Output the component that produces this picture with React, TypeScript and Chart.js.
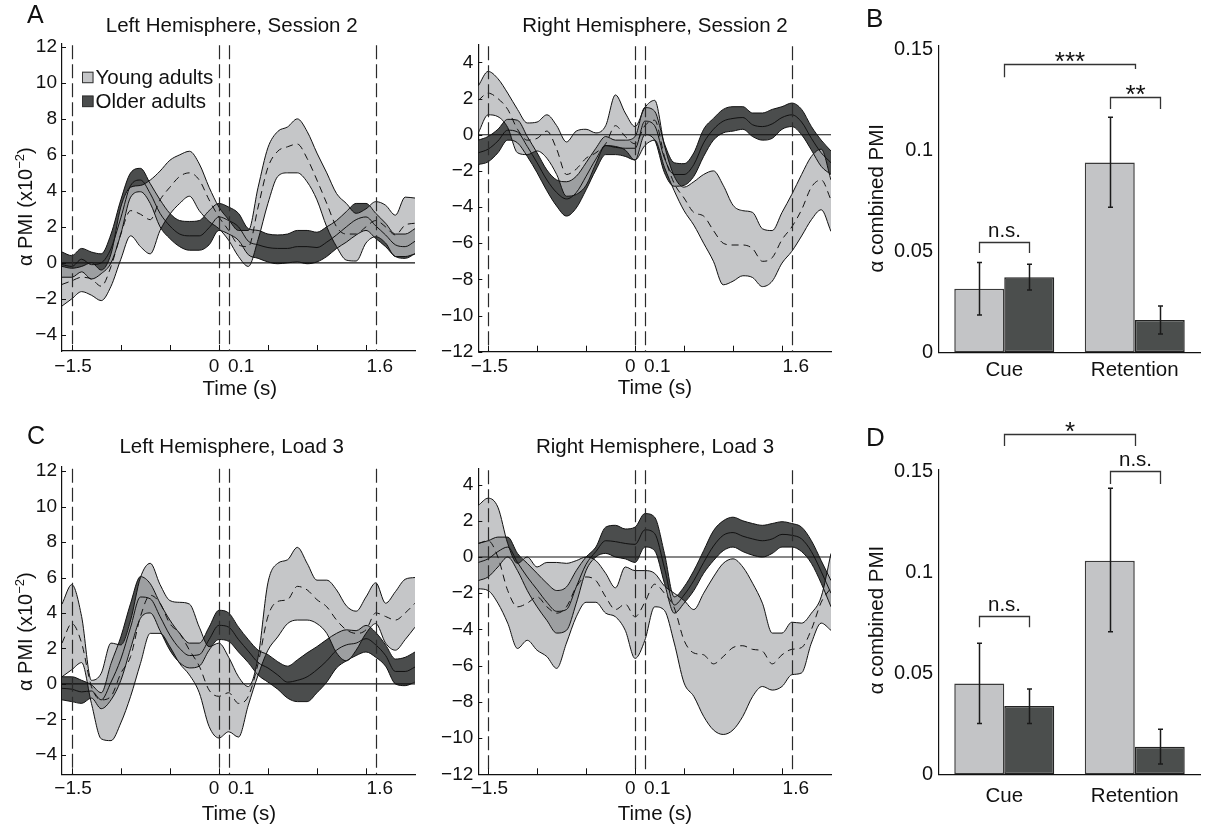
import React, { useEffect, useRef } from "react";
import { Chart, registerables } from "chart.js";

Chart.register(...registerables);

const FONT = '"Liberation Sans", Arial, Helvetica, sans-serif';
const INK = "#111111";
const YOUNG_FILL = "rgba(181,182,184,0.78)";
const OLDER_FILL = "#4b4d4d";
const YOUNG_SOLID = "#c4c5c7";
const YOUNG_BAR = "#c3c4c6";
const OLDER_BAR = "#4b4e4d";

// ---------------- data ----------------
const times = [-1.6, -1.5, -1.4, -1.3, -1.2, -1.1, -1.0, -0.9, -0.8, -0.7, -0.6, -0.5, -0.4, -0.3, -0.2, -0.1, 0, 0.1, 0.2, 0.3, 0.4, 0.5, 0.6, 0.7, 0.8, 0.9, 1.0, 1.1, 1.2, 1.3, 1.4, 1.5, 1.6, 1.7, 1.8, 1.9, 2.0];
const eventTimes = [-1.5, 0, 0.1, 1.6];
const xTickValues = [-1.5, 0, 0.1, 1.6];
const xTickLabels = ["−1.5", "0", "0.1", "1.6"];
const xMinorTicks = [-1.5, -1, -0.5, 0, 0.5, 1, 1.5];
const yTicksLeft = [-4, -2, 0, 2, 4, 6, 8, 10, 12];
const yTicksRight = [-12, -10, -8, -6, -4, -2, 0, 2, 4];

// A: Left hemisphere, session 2
const aLeftYoungUpper = [-0.2, -0.3, -0.2, 0.0, -0.4, 0.5, 3.1, 4.2, 4.3, 4.6, 5.1, 5.7, 6.0, 6.2, 5.5, 4.2, 3.1, 2.4, 1.8, 1.8, 4.2, 6.4, 7.3, 7.55, 8.0, 7.3, 6.1, 5.0, 3.85, 3.3, 2.75, 3.0, 3.4, 3.2, 2.65, 3.65, 3.6];
const aLeftYoungLower = [-2.4, -2.0, -1.6, -1.8, -2.1, -1.3, 0.2, 1.5, 0.9, 0.5, 1.8, 2.7, 3.3, 3.7, 2.9, 2.3, 1.9, 1.25, 0.35, -0.2, 1.3, 3.3, 4.8, 5.0, 5.0, 4.5, 3.5, 2.0, 0.9, 0.15, 0.1, 1.1, 1.45, 1.1, 0.35, 0.35, 0.5];
const aLeftYoungMean = [-1.2, -1.0, -0.8, -0.9, -1.3, -0.2, 1.6, 2.9, 2.7, 2.4, 3.5, 4.2, 4.8, 5.0, 4.6, 3.5, 2.55, 1.8, 1.0, 0.9, 3.1, 5.3, 6.2, 6.45, 6.6, 5.8, 4.6, 3.3, 2.0, 1.6, 1.6, 2.0, 2.35, 2.0, 1.55, 2.1, 2.2];
const aLeftOlderUpper = [0.6, 0.4, 0.8, 0.6, 0.5, 1.6, 3.5, 5.0, 5.25, 4.4, 3.5, 2.75, 2.35, 2.3, 2.35, 2.9, 3.3, 3.1, 2.75, 1.9, 1.8, 1.6, 1.55, 1.6, 1.8, 1.8, 1.7, 2.0, 2.35, 2.85, 3.3, 3.3, 2.75, 2.2, 1.6, 1.6, 1.9];
const aLeftOlderLower = [-0.8, -0.8, -0.5, -0.9, -0.6, 0.0, 1.6, 3.65, 3.95, 3.3, 2.0, 1.35, 0.9, 0.7, 0.7, 1.0, 1.8, 1.6, 1.25, 0.45, 0.25, 0.05, -0.05, 0.0, 0.05, -0.05, 0.05, 0.35, 0.8, 1.15, 1.55, 1.8, 1.35, 0.9, 0.35, 0.25, 0.5];
const aLeftOlderMean = [-0.1, -0.2, 0.2, -0.1, 0.0, 0.8, 2.5, 4.3, 4.6, 3.85, 2.75, 2.05, 1.6, 1.5, 1.5, 1.95, 2.55, 2.35, 2.0, 1.2, 1.0, 0.85, 0.8, 0.8, 0.9, 0.9, 0.85, 1.15, 1.55, 2.0, 2.4, 2.55, 2.05, 1.55, 1.0, 0.9, 1.2];

// A: Right hemisphere, session 2
const aRightYoungUpper = [2.7, 3.5, 3.1, 2.3, 1.4, 0.65, 0.7, 1.1, 0.5, -0.4, 0.2, 0.3, 0.1, 0.5, 2.2, 1.2, 0.45, 1.5, 1.9, -0.6, -2.3, -2.9, -2.6, -2.2, -2.0, -2.8, -3.9, -4.2, -4.3, -5.2, -5.3, -4.3, -3.3, -2.2, -1.2, -0.8, -2.5];
const aRightYoungLower = [0.1, 1.1, 1.0, 0.4, -1.0, -1.1, -0.9, -1.3, -2.2, -3.4, -3.3, -2.8, -1.6, -0.6, -0.65, -0.85, -1.4, -0.6, -0.3, -1.8, -3.1, -4.2, -5.0, -6.0, -7.0, -8.3, -8.1, -7.8, -7.9, -8.4, -8.1, -7.1, -6.45, -5.6, -4.7, -4.15, -5.35];
const aRightYoungMean = [1.9, 2.3, 2.0, 1.4, 0.3, -0.3, -0.2, 0.2, -0.8, -2.2, -1.9, -1.3, -1.0, -0.5, 0.5, -0.1, -0.5, 0.5, 0.8, -1.2, -2.7, -3.5, -4.3, -4.5, -5.3, -6.0, -6.1, -6.1, -6.3, -7.0, -6.8, -5.8, -5.1, -4.15, -2.9, -2.5, -3.6];
const aRightOlderUpper = [-0.3, -0.1, 0.3, 0.85, 0.8, -0.1, -1.0, -1.95, -2.5, -2.6, -2.3, -1.55, -0.75, -0.1, -0.3, -0.3, -0.1, 1.5, 1.3, -0.5, -1.55, -1.6, -1.0, 0.3, 0.9, 1.4, 1.55, 1.55, 1.2, 1.2, 1.4, 1.55, 1.75, 1.4, 0.45, -0.3, -0.9];
const aRightOlderLower = [-1.65, -1.5, -1.0, -0.3, -0.45, -1.2, -2.1, -3.1, -3.95, -4.5, -4.05, -3.05, -1.95, -1.1, -1.1, -1.2, -1.4, 0.0, -0.3, -2.1, -2.85, -2.8, -2.3, -1.2, -0.3, 0.1, 0.2, 0.3, -0.1, -0.3, -0.2, 0.3, 0.45, 0.0, -0.85, -1.75, -2.2];
const aRightOlderMean = [-1.0, -0.8, -0.35, 0.25, 0.15, -0.65, -1.55, -2.5, -3.2, -3.55, -3.2, -2.3, -1.35, -0.6, -0.7, -0.75, -0.75, 0.75, 0.5, -1.3, -2.2, -2.2, -1.65, -0.45, 0.3, 0.75, 0.9, 0.95, 0.55, 0.45, 0.6, 0.95, 1.1, 0.7, -0.2, -1.0, -1.55];

// C: Left hemisphere, load 3
const cLeftYoungUpper = [4.5, 5.6, 3.8, 0.2, 0.6, 2.3, 2.2, 3.6, 6.0, 6.8, 5.6, 4.7, 4.6, 4.5, 3.2, 2.1, 2.3, 1.5, 0.4, -0.15, 1.5, 5.7, 6.8, 7.0, 7.7, 6.8, 5.85, 5.85, 5.3, 4.4, 4.1, 4.9, 5.7, 4.55, 5.2, 5.9, 6.0];
const cLeftYoungLower = [0.4, 0.8, 1.2, -1.1, -3.1, -3.2, -2.2, -0.7, 1.15, 2.85, 2.85, 2.1, 1.15, 0.5, -0.5, -2.4, -3.05, -2.7, -3.0, -1.2, 0.5, 1.9, 2.65, 3.4, 3.6, 3.6, 3.4, 2.85, 1.75, 1.3, 1.9, 2.85, 3.4, 2.3, 1.9, 2.5, 3.2];
const cLeftYoungMean = [2.3, 3.4, 2.3, -0.15, -0.9, -0.7, 0.6, 1.55, 3.8, 5.0, 4.55, 3.4, 2.85, 1.9, 1.0, -0.35, -0.7, -0.5, -1.1, -0.7, 1.15, 3.8, 4.65, 4.75, 5.5, 5.3, 4.75, 4.35, 3.6, 3.05, 2.85, 3.05, 4.0, 3.8, 3.6, 4.0, 4.55];
const cLeftOlderUpper = [0.4, 0.4, 0.2, -0.05, -0.5, 1.15, 2.65, 4.55, 6.05, 5.65, 4.55, 3.6, 2.85, 2.3, 2.3, 3.2, 4.15, 4.0, 3.2, 2.5, 1.9, 1.65, 1.25, 1.0, 1.35, 1.75, 2.1, 2.5, 2.85, 3.05, 3.0, 3.3, 2.9, 2.2, 1.4, 1.5, 1.8];
const cLeftOlderLower = [-0.9, -1.0, -1.1, -0.8, -1.4, -0.9, 0.2, 2.0, 3.7, 4.0, 3.0, 1.9, 1.2, 0.9, 1.0, 1.9, 2.5, 2.4, 1.8, 1.2, 0.5, 0.1, -0.3, -0.8, -1.0, -1.0, -0.5, 0.1, 0.9, 1.3, 1.6, 1.8, 1.5, 1.0, 0.0, -0.1, 0.1];
const cLeftOlderMean = [-0.25, -0.3, -0.45, -0.4, -0.9, 0.1, 1.4, 3.2, 4.9, 4.8, 3.8, 2.75, 2.0, 1.6, 1.65, 2.5, 3.3, 3.2, 2.5, 1.85, 1.2, 0.9, 0.5, 0.1, 0.2, 0.4, 0.8, 1.3, 1.9, 2.2, 2.3, 2.55, 2.2, 1.6, 0.7, 0.7, 0.95];

// C: Right hemisphere, load 3
const cRightYoungUpper = [2.85, 3.25, 2.75, 0.75, -0.35, 0.0, -0.55, -0.3, -0.3, -0.35, -0.2, 0.0, -0.2, -0.9, -1.7, -0.55, -0.75, -0.75, -0.9, -1.6, -2.0, -2.4, -2.9, -2.0, -1.1, -0.35, -0.1, -0.55, -1.45, -2.55, -4.2, -4.2, -3.6, -3.65, -3.1, -2.2, 0.2];
const cRightYoungLower = [-1.75, -1.85, -2.55, -3.65, -5.05, -4.6, -5.15, -5.5, -6.15, -4.75, -3.3, -2.5, -2.5, -3.1, -3.3, -4.05, -5.6, -4.6, -2.75, -2.95, -4.75, -6.95, -7.7, -8.8, -9.55, -9.8, -9.55, -8.8, -7.7, -7.15, -7.35, -7.15, -6.5, -6.4, -4.75, -3.65, -4.05];
const cRightYoungMean = [0.75, 0.9, 0.0, -1.85, -2.75, -2.55, -2.2, -2.75, -3.1, -2.75, -1.65, -1.1, -1.3, -2.2, -2.9, -2.6, -3.3, -2.5, -1.5, -2.0, -2.8, -4.6, -5.3, -5.4, -5.9, -5.5, -5.0, -4.9, -5.1, -5.2, -5.9, -5.4, -5.1, -5.0, -4.0, -2.5, -1.7];
const cRightOlderUpper = [0.75, 0.9, 1.1, 1.1, 0.2, -0.35, -0.9, -1.45, -1.85, -1.65, -0.75, 0.0, 0.55, 1.65, 1.75, 1.55, 1.65, 2.4, 2.2, 0.2, -2.2, -1.65, -0.75, 0.35, 1.45, 2.0, 2.2, 2.0, 1.85, 1.75, 1.85, 1.95, 1.85, 1.65, 0.9, -0.2, -1.3];
const cRightOlderLower = [-1.3, -1.1, -0.55, 0.0, -0.75, -1.85, -2.75, -3.5, -4.2, -4.05, -2.55, -0.75, 0.0, 0.2, 0.0, -0.1, -0.3, 0.55, 0.35, -1.45, -3.1, -2.55, -1.85, -0.9, -0.2, 0.35, 0.55, 0.3, 0.1, 0.0, 0.2, 0.55, 0.55, 0.3, -0.35, -1.45, -2.75];
const cRightOlderMean = [-0.3, -0.1, 0.3, 0.55, -0.3, -1.1, -1.8, -2.5, -3.0, -2.9, -1.65, -0.4, 0.3, 0.9, 0.85, 0.75, 0.7, 1.5, 1.3, -0.6, -2.65, -2.1, -1.3, -0.3, 0.6, 1.2, 1.35, 1.15, 1.0, 0.9, 1.0, 1.25, 1.2, 1.0, 0.3, -0.8, -2.0];

// B / D bar charts
const barCategories = ["Cue", "Retention"];
const barYTicks = [0, 0.05, 0.1, 0.15];
const bYoungMean = [0.0315, 0.0939];
const bYoungLo = [0.0185, 0.0718];
const bYoungHi = [0.0444, 0.1163];
const bOlderMean = [0.0371, 0.016];
const bOlderLo = [0.0308, 0.0091];
const bOlderHi = [0.0436, 0.0229];

const dYoungMean = [0.045, 0.1057];
const dYoungLo = [0.0252, 0.0706];
const dYoungHi = [0.0649, 0.1416];
const dOlderMean = [0.0338, 0.0137];
const dOlderLo = [0.0252, 0.0051];
const dOlderHi = [0.0422, 0.0223];

// significance brackets: ends are a category centre {cat} or a bar {ds, i}; heights in data units
const bBrackets = [
  { a: { cat: 0 }, b: { cat: 1 }, top: 0.1426, legA: 0.1361, legB: 0.1402, label: "***" },
  { a: { ds: 0, i: 1 }, b: { ds: 1, i: 1 }, top: 0.1265, legA: 0.1204, legB: 0.1204, label: "**" },
  { a: { ds: 0, i: 0 }, b: { ds: 1, i: 0 }, top: 0.0548, legA: 0.0492, legB: 0.0492, label: "n.s." },
];
const dBrackets = [
  { a: { cat: 0 }, b: { cat: 1 }, top: 0.1685, legA: 0.1625, legB: 0.1625, label: "*" },
  { a: { ds: 0, i: 1 }, b: { ds: 1, i: 1 }, top: 0.1501, legA: 0.1437, legB: 0.1437, label: "n.s." },
  { a: { ds: 0, i: 0 }, b: { ds: 1, i: 0 }, top: 0.0785, legA: 0.0728, legB: 0.0728, label: "n.s." },
];

// ---------------- layout (page pixels) ----------------
const linePanels = [
  {
    key: "aL", box: { x: 0, y: 0, w: 430, h: 400 }, area: { l: 62, r: 415, t: 43.3, b: 351 },
    yMin: -4.9, yMax: 12.2, yTicks: yTicksLeft,
    series: [aLeftYoungUpper, aLeftYoungLower, aLeftYoungMean, aLeftOlderUpper, aLeftOlderLower, aLeftOlderMean],
    title: "Left Hemisphere, Session 2", titleX: 231.7, titleY: 32,
    letter: "A", letterX: 27, letterY: 23, yTitle: { x: 31.5, y: 206.7 },
    xTitleX: 239.8, xTitleY: 395, xLabelDy: 20.8, legend: true,
  },
  {
    key: "aR", box: { x: 430, y: 0, w: 420, h: 400 }, area: { l: 478.3, r: 831, t: 44.3, b: 351.7 },
    yMin: -12, yMax: 5, yTicks: yTicksRight,
    series: [aRightYoungUpper, aRightYoungLower, aRightYoungMean, aRightOlderUpper, aRightOlderLower, aRightOlderMean],
    title: "Right Hemisphere, Session 2", titleX: 655, titleY: 32,
    xTitleX: 655, xTitleY: 394, xLabelDy: 20.3,
  },
  {
    key: "cL", box: { x: 0, y: 400, w: 430, h: 432 }, area: { l: 62, r: 415, t: 466.7, b: 774.3 },
    yMin: -5.1, yMax: 12.25, yTicks: yTicksLeft,
    series: [cLeftYoungUpper, cLeftYoungLower, cLeftYoungMean, cLeftOlderUpper, cLeftOlderLower, cLeftOlderMean],
    title: "Left Hemisphere, Load 3", titleX: 231.7, titleY: 453,
    letter: "C", letterX: 27, letterY: 444, yTitle: { x: 31.5, y: 631.7 },
    xTitleX: 239, xTitleY: 820, xLabelDy: 19.7,
  },
  {
    key: "cR", box: { x: 430, y: 400, w: 420, h: 432 }, area: { l: 478.3, r: 831, t: 468.3, b: 774.3 },
    yMin: -12, yMax: 4.9, yTicks: yTicksRight,
    series: [cRightYoungUpper, cRightYoungLower, cRightYoungMean, cRightOlderUpper, cRightOlderLower, cRightOlderMean],
    title: "Right Hemisphere, Load 3", titleX: 655, titleY: 453.3,
    xTitleX: 655, xTitleY: 820, xLabelDy: 19.7,
  },
];

const barPanels = [
  {
    key: "B", box: { x: 850, y: 0, w: 357, h: 400 }, area: { l: 939, r: 1200, t: 45.2, b: 352.3 }, yMax: 0.152,
    young: bYoungMean, older: bOlderMean, youngLo: bYoungLo, youngHi: bYoungHi, olderLo: bOlderLo, olderHi: bOlderHi,
    brackets: bBrackets, letter: "B", letterX: 866, letterY: 27, yTitle: { x: 883.3, y: 198.3 }, xPad: 6,
  },
  {
    key: "D", box: { x: 850, y: 400, w: 357, h: 432 }, area: { l: 939, r: 1200, t: 469.3, b: 774.3 }, yMax: 0.151,
    young: dYoungMean, older: dOlderMean, youngLo: dYoungLo, youngHi: dYoungHi, olderLo: dOlderLo, olderHi: dOlderHi,
    brackets: dBrackets, letter: "D", letterX: 866, letterY: 446, yTitle: { x: 883.3, y: 620 }, xPad: 10,
  },
];

// ---------------- helpers ----------------
function font(size: number) {
  return `${size}px ${FONT}`;
}

type Part = { t: string; size: number; rise?: number };

function drawParts(ctx: CanvasRenderingContext2D, parts: Part[], x: number, y: number, align: "left" | "center", rotate = false) {
  ctx.save();
  ctx.fillStyle = INK;
  ctx.textBaseline = "alphabetic";
  ctx.textAlign = "left";
  let total = 0;
  for (const p of parts) {
    ctx.font = font(p.size);
    total += ctx.measureText(p.t).width;
  }
  ctx.translate(x, y);
  if (rotate) ctx.rotate(-Math.PI / 2);
  let cx = align === "center" ? -total / 2 : 0;
  for (const p of parts) {
    ctx.font = font(p.size);
    ctx.fillText(p.t, cx, -(p.rise || 0));
    cx += ctx.measureText(p.t).width;
  }
  ctx.restore();
}

function makeLineChart(canvas: HTMLCanvasElement, p: any) {
  const { box, area } = p;
  const toPts = (arr: number[]) => times.map((t, i) => ({ x: t, y: arr[i] }));
  const base = {
    pointRadius: 0,
    borderWidth: 1,
    borderColor: INK,
    cubicInterpolationMode: "monotone",
    fill: false,
  };
  const [yu, yl, ym, ou, ol, om] = p.series;
  const datasets = [
    { ...base, label: "Young adults", data: toPts(yu), fill: "+1", backgroundColor: YOUNG_FILL },
    { ...base, label: "young lower", data: toPts(yl) },
    { ...base, label: "young mean", data: toPts(ym), borderDash: [7, 5] },
    { ...base, label: "Older adults", data: toPts(ou), fill: "+1", backgroundColor: OLDER_FILL },
    { ...base, label: "older lower", data: toPts(ol) },
    { ...base, label: "older mean", data: toPts(om) },
  ];

  const decor = {
    id: "decor_" + p.key,
    afterDatasetsDraw(chart: any) {
      const { ctx, chartArea: a } = chart;
      const xs = chart.scales.x;
      const ys = chart.scales.y;
      ctx.save();
      const y0 = ys.getPixelForValue(0);
      ctx.strokeStyle = INK;
      ctx.lineWidth = 1.1;
      ctx.beginPath();
      ctx.moveTo(a.left, y0);
      ctx.lineTo(a.right, y0);
      ctx.stroke();
      ctx.strokeStyle = "#2a2a2a";
      ctx.lineWidth = 1.2;
      ctx.setLineDash([14, 5]);
      for (const v of eventTimes) {
        const px = Math.round(xs.getPixelForValue(v)) + 0.5;
        ctx.beginPath();
        ctx.moveTo(px, a.top + 2);
        ctx.lineTo(px, a.bottom);
        ctx.stroke();
      }
      ctx.restore();
    },
    afterDraw(chart: any) {
      const { ctx, chartArea: a } = chart;
      const xs = chart.scales.x;
      const ys = chart.scales.y;
      const ox = box.x;
      const oy = box.y;
      ctx.save();
      // inward tick marks
      ctx.strokeStyle = INK;
      ctx.lineWidth = 1;
      for (const v of xMinorTicks) {
        const px = Math.round(xs.getPixelForValue(v)) + 0.5;
        ctx.beginPath();
        ctx.moveTo(px, a.bottom);
        ctx.lineTo(px, a.bottom - 6);
        ctx.stroke();
      }
      for (const v of p.yTicks) {
        const py = Math.round(ys.getPixelForValue(v)) + 0.5;
        ctx.beginPath();
        ctx.moveTo(a.left, py);
        ctx.lineTo(a.left + 4, py);
        ctx.stroke();
      }
      // x tick labels (hand placed like the original)
      ctx.fillStyle = INK;
      ctx.font = font(19);
      ctx.textBaseline = "alphabetic";
      const ly = a.bottom + p.xLabelDy;
      xTickValues.forEach((v, i) => {
        const px = xs.getPixelForValue(v);
        const lab = xTickLabels[i];
        if (lab === "0") {
          ctx.textAlign = "right";
          ctx.fillText(lab, px + 0.5, ly);
        } else if (lab === "0.1") {
          ctx.textAlign = "left";
          ctx.fillText(lab, px - 0.8, ly);
        } else if (lab === "1.6") {
          ctx.textAlign = "center";
          ctx.fillText(lab, px + 4, ly);
        } else {
          ctx.textAlign = "center";
          ctx.fillText(lab, px + 1.3, ly);
        }
      });
      ctx.restore();
      // texts
      drawParts(ctx, [{ t: p.title, size: 20.5 }], p.titleX - ox, p.titleY - oy, "center");
      drawParts(ctx, [{ t: "Time (s)", size: 20.5 }], p.xTitleX - ox, p.xTitleY - oy, "center");
      if (p.letter) drawParts(ctx, [{ t: p.letter, size: 25 }], p.letterX - ox, p.letterY - oy, "left");
      if (p.yTitle) {
        drawParts(
          ctx,
          [
            { t: "α PMI (x10", size: 20 },
            { t: "−2", size: 13, rise: 8 },
            { t: ")", size: 20 },
          ],
          p.yTitle.x - ox,
          p.yTitle.y - oy,
          "center",
          true
        );
      }
      if (p.legend) {
        const items = [
          { label: datasets[0].label, color: YOUNG_SOLID, y: 71.7 - oy },
          { label: datasets[3].label, color: OLDER_FILL, y: 95.6 - oy },
        ];
        ctx.save();
        for (const it of items) {
          const bx = a.left + 20;
          ctx.fillStyle = it.color;
          ctx.fillRect(bx, it.y, 11.5, 11.5);
          ctx.strokeStyle = "#333";
          ctx.lineWidth = 1;
          ctx.strokeRect(bx + 0.5, it.y + 0.5, 10.5, 10.5);
          ctx.fillStyle = INK;
          ctx.font = font(20.5);
          ctx.textAlign = "left";
          ctx.textBaseline = "alphabetic";
          ctx.fillText(it.label, bx + 13.5, it.y + 12);
        }
        ctx.restore();
      }
    },
  };

  return new Chart(canvas, {
    type: "line",
    data: { datasets },
    options: {
      animation: false,
      responsive: false,
      maintainAspectRatio: false,
      events: [],
      layout: {
        padding: { left: 0, top: area.t - box.y, right: box.x + box.w - area.r, bottom: 0 },
      },
      scales: {
        x: {
          type: "linear",
          min: -1.6,
          max: 2.0,
          grid: { display: false, drawTicks: false },
          border: { display: true, color: INK, width: 1.2 },
          ticks: { display: false },
          afterFit: (s: any) => {
            s.height = box.y + box.h - area.b;
          },
        },
        y: {
          type: "linear",
          min: p.yMin,
          max: p.yMax,
          grid: { display: false, drawTicks: false },
          border: { display: true, color: INK, width: 1.2 },
          ticks: {
            font: { family: FONT, size: 19 },
            color: INK,
            padding: 5,
            callback: (v: any) => String(v).replace("-", "−"),
          },
          afterBuildTicks: (s: any) => {
            s.ticks = p.yTicks.map((v: number) => ({ value: v }));
          },
          afterFit: (s: any) => {
            s.width = area.l - box.x;
          },
        },
      },
      plugins: {
        legend: { display: false },
        tooltip: { enabled: false },
        filler: { drawTime: "beforeDatasetsDraw" },
      },
    } as any,
    plugins: [decor],
  } as any);
}

function makeBarChart(canvas: HTMLCanvasElement, p: any) {
  const { box, area } = p;
  const barCommon = { borderWidth: 1.5, borderSkipped: false, barPercentage: 1, categoryPercentage: 0.766 };
  const decor = {
    id: "bars_" + p.key,
    afterDatasetsDraw(chart: any) {
      const { ctx } = chart;
      const ys = chart.scales.y;
      const errs = [
        [0, p.youngLo, p.youngHi],
        [1, p.olderLo, p.olderHi],
      ];
      ctx.save();
      ctx.strokeStyle = "#1a1a1a";
      ctx.lineWidth = 1.5;
      for (const [di, lo, hi] of errs as any) {
        const meta = chart.getDatasetMeta(di);
        meta.data.forEach((el: any, i: number) => {
          const x = Math.round(el.x) + 0.5;
          const y1 = ys.getPixelForValue(lo[i]);
          const y2 = ys.getPixelForValue(hi[i]);
          ctx.beginPath();
          ctx.moveTo(x, y1);
          ctx.lineTo(x, y2);
          ctx.moveTo(x - 2.5, y1);
          ctx.lineTo(x + 2.5, y1);
          ctx.moveTo(x - 2.5, y2);
          ctx.lineTo(x + 2.5, y2);
          ctx.stroke();
        });
      }
      ctx.restore();
    },
    afterDraw(chart: any) {
      const { ctx } = chart;
      const xs = chart.scales.x;
      const ys = chart.scales.y;
      const ox = box.x;
      const oy = box.y;
      const endX = (e: any) => (e.cat !== undefined ? xs.getPixelForValue(e.cat) : chart.getDatasetMeta(e.ds).data[e.i].x);
      ctx.save();
      ctx.strokeStyle = "#333";
      ctx.lineWidth = 1.3;
      for (const br of p.brackets) {
        const x1 = Math.round(endX(br.a)) + 0.5;
        const x2 = Math.round(endX(br.b)) + 0.5;
        const yt = Math.round(ys.getPixelForValue(br.top)) + 0.5;
        ctx.beginPath();
        ctx.moveTo(x1, ys.getPixelForValue(br.legA));
        ctx.lineTo(x1, yt);
        ctx.lineTo(x2, yt);
        ctx.lineTo(x2, ys.getPixelForValue(br.legB));
        ctx.stroke();
        const cx = (x1 + x2) / 2;
        if (br.label.startsWith("*")) {
          drawParts(ctx, [{ t: br.label, size: 26 }], cx, yt + 5.5, "center");
        } else {
          drawParts(ctx, [{ t: br.label, size: 20.5 }], cx, yt - 6, "center");
        }
      }
      ctx.restore();
      drawParts(ctx, [{ t: p.letter, size: 26 }], p.letterX - ox, p.letterY - oy, "left");
      drawParts(ctx, [{ t: "α combined PMI", size: 20.5 }], p.yTitle.x - ox, p.yTitle.y - oy, "center", true);
    },
  };

  return new Chart(canvas, {
    type: "bar",
    data: {
      labels: barCategories,
      datasets: [
        { ...barCommon, label: "Young adults", data: p.young, backgroundColor: YOUNG_BAR, borderColor: "#3a3a3a" },
        { ...barCommon, label: "Older adults", data: p.older, backgroundColor: OLDER_BAR, borderColor: "#222" },
      ],
    },
    options: {
      animation: false,
      responsive: false,
      maintainAspectRatio: false,
      events: [],
      layout: {
        padding: { left: 0, top: area.t - box.y, right: box.x + box.w - area.r, bottom: 0 },
      },
      scales: {
        x: {
          grid: { display: false, drawTicks: false },
          border: { display: true, color: INK, width: 1.2 },
          ticks: { font: { family: FONT, size: 20.5 }, color: INK, padding: p.xPad },
          afterFit: (s: any) => {
            s.height = box.y + box.h - area.b;
          },
        },
        y: {
          min: 0,
          max: p.yMax,
          grid: { display: false, drawTicks: false },
          border: { display: true, color: INK, width: 1.2 },
          ticks: { font: { family: FONT, size: 20 }, color: INK, padding: 6, callback: (v: any) => String(v) },
          afterBuildTicks: (s: any) => {
            s.ticks = barYTicks.map((v) => ({ value: v }));
          },
          afterFit: (s: any) => {
            s.width = area.l - box.x;
          },
        },
      },
      plugins: {
        legend: { display: false },
        tooltip: { enabled: false },
      },
    } as any,
    plugins: [decor],
  } as any);
}

function PanelCanvas({ panel, kind }: { panel: any; kind: "line" | "bar" }) {
  const ref = useRef<HTMLCanvasElement | null>(null);
  useEffect(() => {
    if (!ref.current) return;
    const chart = kind === "line" ? makeLineChart(ref.current, panel) : makeBarChart(ref.current, panel);
    return () => chart.destroy();
  }, [panel, kind]);
  const { box } = panel;
  return (
    <canvas
      ref={ref}
      width={box.w}
      height={box.h}
      style={{ position: "absolute", left: box.x, top: box.y, width: box.w, height: box.h }}
    />
  );
}

export default function App() {
  return (
    <div style={{ position: "absolute", left: 0, top: 0, width: 1207, height: 832, background: "#ffffff", overflow: "hidden" }}>
      {linePanels.map((p) => (
        <PanelCanvas key={p.key} panel={p} kind="line" />
      ))}
      {barPanels.map((p) => (
        <PanelCanvas key={p.key} panel={p} kind="bar" />
      ))}
    </div>
  );
}
